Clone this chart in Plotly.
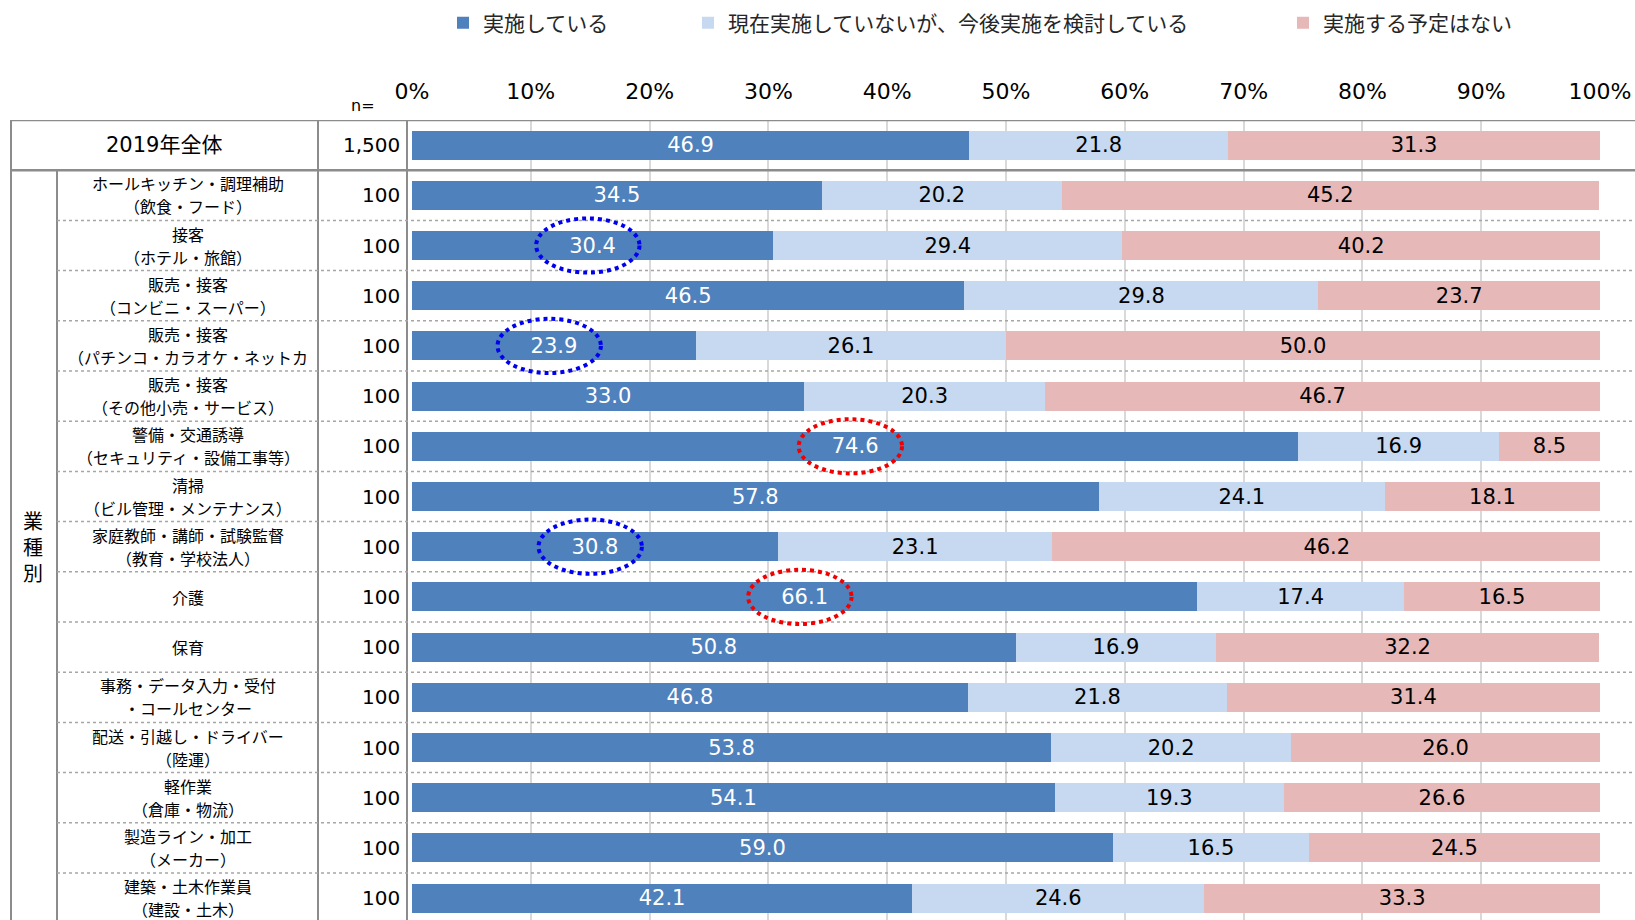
import plotly.graph_objects as go

# ---------------- data ----------------
label_top = ["2019年全体", "ホールキッチン・調理補助", "接客", "販売・接客", "販売・接客",
             "販売・接客", "警備・交通誘導", "清掃", "家庭教師・講師・試験監督", "介護",
             "保育", "事務・データ入力・受付", "配送・引越し・ドライバー", "軽作業",
             "製造ライン・加工", "建築・土木作業員"]
label_bottom = ["", "（飲食・フード）", "（ホテル・旅館）", "（コンビニ・スーパー）",
                "（パチンコ・カラオケ・ネットカ", "（その他小売・サービス）",
                "（セキュリティ・設備工事等）", "（ビル管理・メンテナンス）", "（教育・学校法人）",
                "", "", "・コールセンター", "（陸運）", "（倉庫・物流）", "（メーカー）", "（建設・土木）"]
n_values = ["1,500"] + ["100"] * 15
implemented = [46.9, 34.5, 30.4, 46.5, 23.9, 33.0, 74.6, 57.8, 30.8, 66.1, 50.8, 46.8, 53.8, 54.1, 59.0, 42.1]
considering = [21.8, 20.2, 29.4, 29.8, 26.1, 20.3, 16.9, 24.1, 23.1, 17.4, 16.9, 21.8, 20.2, 19.3, 16.5, 24.6]
no_plan = [31.3, 45.2, 40.2, 23.7, 50.0, 46.7, 8.5, 18.1, 46.2, 16.5, 32.2, 31.4, 26.0, 26.6, 24.5, 33.3]
series_names = ["実施している", "現在実施していないが、今後実施を検討している", "実施する予定はない"]
group_label = "業種別"
n_header = "n="
x_ticks = [0, 10, 20, 30, 40, 50, 60, 70, 80, 90, 100]
x_tick_labels = [f"{v}%" for v in x_ticks]
circled_blue = [2, 4, 8]   # row indices highlighted in blue
circled_red = [6, 9]       # row indices highlighted in red

# ---------------- layout constants ----------------
W, H = 1635, 920
PL, PR, PT, PB = 412, 1600, 120, 920
PW, PH = PR - PL, PB - PT
ROW_H = 50.2
n_rows = len(label_top)
y_bottom = -0.5 + PH / ROW_H

def px_x(px):
    return (px - PL) / PW

def px_y(py):
    return 1 - (py - PT) / PH

JP = "Noto Sans CJK JP, DejaVu Sans, sans-serif"
NUM = "DejaVu Sans, Noto Sans CJK JP, sans-serif"

colors = ["#4F81BD", "#C6D9F1", "#E6B9B8"]
text_colors = ["white", "black", "black"]

keys = [t + b for t, b in zip(label_top, label_bottom)]

fig = go.Figure()
for k, (vals, name) in enumerate(zip([implemented, considering, no_plan], series_names)):
    fig.add_trace(go.Bar(
        x=vals, y=keys, orientation="h", name=name,
        marker=dict(color=colors[k], line=dict(width=0)),
        text=[f"{v:.1f}" for v in vals], textposition="inside",
        insidetextanchor="middle", constraintext="none",
        textfont=dict(family=NUM, size=21, color=text_colors[k]),
        legend="legend" if k == 0 else f"legend{k+1}",
        hoverinfo="x+name",
    ))

shapes = []
LINE_C = "#8C8C8C"
# table vertical borders
for xpx, ytop in [(11, PT), (57, PT + ROW_H), (318, PT), (407, PT)]:
    shapes.append(dict(type="line", xref="paper", yref="paper",
                       x0=px_x(xpx), x1=px_x(xpx), y0=0, y1=px_y(ytop),
                       line=dict(color=LINE_C, width=2), layer="above"))
# top border
shapes.append(dict(type="line", xref="paper", yref="y", x0=px_x(11), x1=px_x(W + 5),
                   y0=-0.5, y1=-0.5, line=dict(color=LINE_C, width=2.5), layer="above"))
# row separators
for i in range(n_rows - 1):
    yv = i + 0.5
    if i == 0:
        shapes.append(dict(type="line", xref="paper", yref="y", x0=px_x(11), x1=px_x(W + 5),
                           y0=yv, y1=yv, line=dict(color=LINE_C, width=2.5), layer="above"))
    else:
        shapes.append(dict(type="line", xref="paper", yref="y", x0=px_x(57), x1=px_x(W + 5),
                           y0=yv, y1=yv, line=dict(color="#A6A6A6", width=1.5, dash="dot"),
                           layer="above"))
# highlight ellipses
for idxs, col in [(circled_blue, "#0000F0"), (circled_red, "#F00000")]:
    for i in idxs:
        cx = implemented[i] / 2 - 0.4
        shapes.append(dict(type="circle", xref="x", yref="y",
                           x0=cx - 4.35, x1=cx + 4.35, y0=i - 0.54, y1=i + 0.54,
                           line=dict(color=col, width=4, dash="dot"), layer="above"))

annotations = []
for i in range(n_rows):
    if i == 0:
        annotations.append(dict(text=label_top[i], xref="paper", yref="y", x=px_x(164), y=i,
                                showarrow=False, xanchor="center", yanchor="middle",
                                font=dict(family=NUM, size=21, color="black")))
    elif label_bottom[i] == "":
        annotations.append(dict(text=label_top[i], xref="paper", yref="y", x=px_x(188), y=i,
                                showarrow=False, xanchor="center", yanchor="middle",
                                font=dict(family=JP, size=16, color="black")))
    else:
        for txt, shift in [(label_top[i], 12), (label_bottom[i], -11)]:
            annotations.append(dict(text=txt, xref="paper", yref="y", x=px_x(188), y=i,
                                    yshift=shift, showarrow=False, xanchor="center",
                                    yanchor="middle",
                                    font=dict(family=JP, size=16, color="black")))
    annotations.append(dict(text=n_values[i], xref="paper", yref="y", x=px_x(402), y=i,
                            showarrow=False, xanchor="right", yanchor="middle",
                            font=dict(family=NUM, size=20, color="black")))

annotations.append(dict(text="<br>".join(group_label), xref="paper", yref="y", x=px_x(33), y=8,
                        showarrow=False, xanchor="center", yanchor="middle",
                        font=dict(family=JP, size=20, color="black")))
annotations.append(dict(text=n_header, xref="paper", yref="paper", x=px_x(363), y=px_y(106),
                        showarrow=False, xanchor="center", yanchor="middle",
                        font=dict(family=NUM, size=16, color="black")))

leg_common = dict(orientation="h", yref="paper", y=px_y(23), xanchor="left", yanchor="middle",
                  font=dict(family=JP, size=21, color="#262626"), bgcolor="rgba(0,0,0,0)",
                  itemwidth=30, borderwidth=0)

fig.update_layout(
    width=W, height=H,
    margin=dict(l=PL, r=W - PR, t=PT, b=H - PB, pad=0),
    barmode="stack", bargap=0.42,
    plot_bgcolor="white", paper_bgcolor="white",
    xaxis=dict(range=[0, 100], tickvals=x_ticks, ticktext=x_tick_labels, side="top",
               showgrid=True, gridcolor="#D9D9D9", gridwidth=2, zeroline=False,
               showline=False, ticks="", ticklabelstandoff=16,
               tickfont=dict(family=NUM, size=22, color="black"), fixedrange=True),
    yaxis=dict(type="category", range=[y_bottom, -0.5], showticklabels=False,
               showgrid=False, zeroline=False, ticks="", fixedrange=True),
    legend=dict(x=px_x(443), **leg_common),
    legend2=dict(x=px_x(688), **leg_common),
    legend3=dict(x=px_x(1283), **leg_common),
    shapes=shapes, annotations=annotations,
    showlegend=True,
)

fig.write_html("out.html", config={"displayModeBar": False},
               post_script="document.body.style.margin='0';document.body.style.overflow='hidden';")
